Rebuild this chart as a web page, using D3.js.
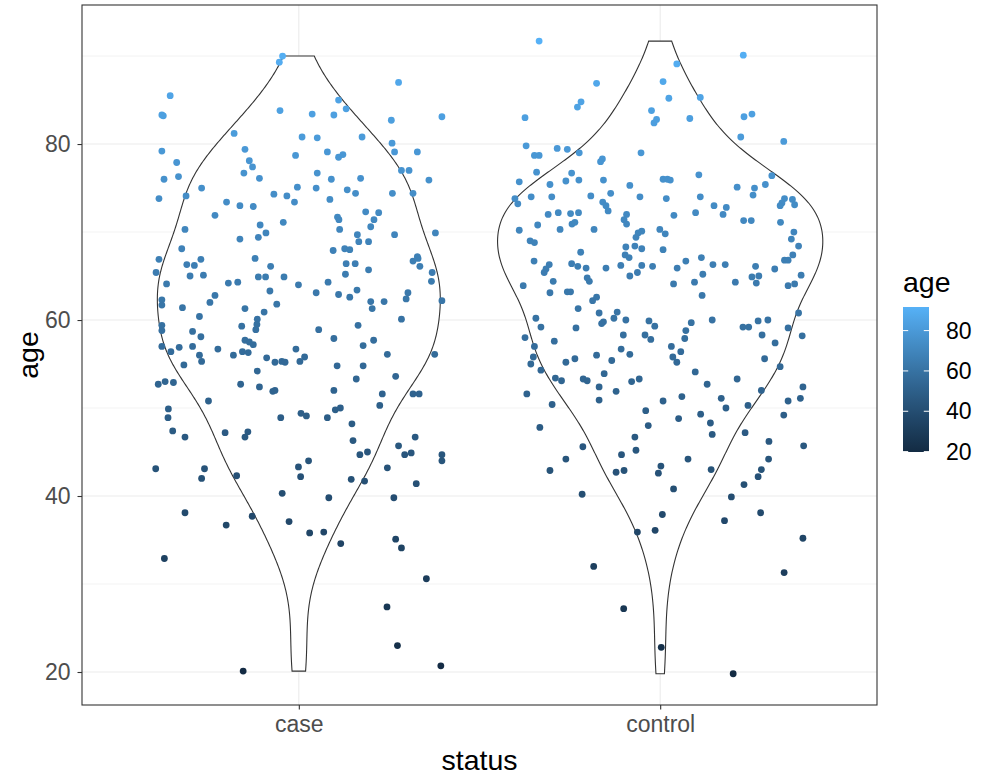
<!DOCTYPE html>
<html>
<head>
<meta charset="utf-8">
<script src="https://cdn.jsdelivr.net/npm/d3@7"></script>
<style>
  body { margin: 0; background: #fff; }
  text { font-family: "Liberation Sans", Arial, Helvetica, sans-serif; }
</style>
</head>
<body>
<svg id="chart" width="982" height="776"></svg>
<script>
// ---- data -------------------------------------------------------------
const categories = ["case", "control"];

// age of each subject and its horizontal jitter (in category units)
const caseAge = [
  90.0, 89.3, 85.5, 83.3, 83.2, 83.8, 81.2, 80.8, 79.2, 79.4, 77.9, 78.1, 77.4, 78.7, 76.0, 76.3, 76.7, 76.1,
  73.8, 74.1, 75.0, 74.3, 74.1, 75.1, 73.4, 73.4, 73.0, 72.9, 71.9, 71.1, 70.8, 69.9, 69.4, 70.3, 69.2, 68.1,
  87.0, 85.0, 84.0, 83.4, 83.3, 82.7, 83.1, 80.7, 80.8, 80.1, 79.1, 79.1, 79.1, 78.5, 78.8, 77.0, 77.0, 76.7,
  76.0, 76.1, 75.9, 75.0, 74.8, 74.4, 74.4, 74.4, 73.7, 72.3, 72.2, 71.7, 71.4, 71.4, 70.6, 70.3, 69.7, 69.7,
  69.9, 68.9, 68.9, 67.9, 68.1, 68.0, 67.2,
  66.9, 65.4, 66.3, 66.2, 66.9, 65.0, 65.1, 67.0, 66.1, 64.9, 64.9, 64.9, 64.0, 64.1, 64.2, 64.3, 63.3, 62.8,
  62.0, 62.3, 61.7, 61.8, 61.4, 61.3, 60.9, 60.4, 60.1, 59.5, 58.9, 59.3, 59.4, 58.8, 58.7, 58.1, 57.7, 57.5,
  57.2, 57.0, 56.4, 56.9, 57.0, 56.7, 56.4, 56.3, 56.7, 56.0, 55.3, 56.0, 55.7, 55.2, 55.3, 55.2, 55.3, 54.9,
  54.2, 52.7, 53.0, 52.9, 52.7, 52.4, 51.9, 52.0, 50.8, 49.9, 48.9, 48.9, 49.4, 47.4, 46.7, 47.2, 47.3, 46.7,
  43.1, 43.1, 43.3,
  66.4, 66.4, 65.2, 65.7, 64.3, 63.1, 62.9, 62.6, 63.4, 62.1, 61.3, 62.1, 63.1, 62.4, 66.7, 67.0, 66.1, 65.4,
  64.4, 62.2, 60.1, 59.4, 58.9, 57.9, 57.1, 57.7, 56.1, 56.1, 55.8, 54.8, 54.8, 53.3, 53.6, 52.0, 51.6, 51.6,
  51.6, 50.3, 49.1, 49.8, 50.0, 48.9, 48.2, 46.3, 44.7, 45.0, 45.7, 46.7, 44.7, 44.9, 44.7, 44.0, 44.0, 43.2,
  42.0, 42.3, 42.2, 40.3, 38.1, 36.7, 37.7, 37.1, 32.9, 20.1,
  41.9, 41.7, 41.4, 39.8, 39.8, 35.8, 35.9, 34.6, 35.1, 34.1, 30.6, 27.4, 23.0, 20.7
];
const caseJitter = [
  -0.045, -0.054, -0.356, -0.379, -0.375, -0.052, -0.179, 0.009, -0.379, -0.149, -0.338, -0.137, -0.128, -0.009, -0.373, -0.333, -0.152, -0.109,
  -0.387, -0.312, -0.269, -0.069, -0.033, -0.004, -0.012, -0.200, -0.163, -0.126, -0.232, -0.043, -0.107, -0.091, -0.112, -0.315, -0.163, -0.324,
  0.276, 0.110, 0.131, 0.037, 0.097, 0.256, 0.396, 0.051, 0.175, 0.258, 0.265, 0.328, 0.079, 0.110, 0.122, 0.284, 0.305, 0.051,
  0.090, 0.171, 0.360, 0.048, 0.134, 0.157, 0.259, 0.316, 0.086, 0.185, 0.221, 0.107, 0.111, 0.208, 0.199, 0.113, 0.162, 0.265,
  0.378, 0.166, 0.193, 0.095, 0.127, 0.141, 0.328,
  -0.387, -0.395, -0.310, -0.289, -0.271, -0.301, -0.264, -0.121, -0.078, -0.112, -0.092, -0.041, -0.001, -0.366, -0.195, -0.169, -0.080, -0.232,
  -0.246, -0.379, -0.379, -0.061, -0.322, -0.149, -0.096, -0.275, -0.115, -0.116, -0.119, -0.158, -0.379, -0.379, -0.294, -0.271, -0.149, -0.137,
  -0.126, -0.379, -0.354, -0.331, -0.294, -0.224, -0.156, -0.140, -0.008, -0.275, -0.269, -0.181, -0.089, -0.066, -0.047, -0.038, 0.003, -0.318,
  -0.115, -0.389, -0.370, -0.347, -0.161, -0.109, -0.072, -0.066, -0.250, -0.361, -0.362, -0.050, 0.006, -0.349, -0.315, -0.204, -0.141, -0.149,
  -0.396, -0.261, -0.001,
  0.131, 0.156, 0.129, 0.193, 0.081, 0.048, 0.110, 0.141, 0.161, 0.199, 0.203, 0.236, 0.302, 0.297, 0.316, 0.330, 0.335, 0.369,
  0.367, 0.396, 0.284, 0.164, 0.055, 0.097, 0.178, 0.207, 0.245, 0.376, 0.016, 0.106, 0.178, 0.159, 0.268, 0.097, 0.231, 0.316,
  0.333, 0.224, 0.021, 0.101, 0.115, 0.079, 0.147, 0.150, 0.169, 0.190, 0.276, 0.322, 0.293, 0.311, 0.396, 0.396, 0.027, 0.245,
  -0.269, -0.172, 0.005, -0.046, -0.315, -0.201, -0.129, -0.027, -0.372, -0.154,
  0.145, 0.182, 0.325, 0.083, 0.263, 0.030, 0.069, 0.116, 0.268, 0.284, 0.353, 0.244, 0.273, 0.393
];

const controlAge = [
  91.7, 86.9, 87.1, 84.8, 84.2, 83.0, 83.8, 82.8, 82.4, 79.8, 78.7, 78.7, 79.5, 79.4, 79.0, 79.0, 78.3, 78.0,
  76.8, 76.7, 75.7, 75.4, 75.8, 75.9, 75.9, 75.3, 73.8, 73.2, 74.0, 74.0, 74.1, 74.4, 73.4, 73.0, 72.4, 74.0,
  72.0, 72.2, 72.1, 72.2, 72.0, 71.4, 70.9, 70.9, 71.1, 70.8, 70.2, 70.3, 70.3, 70.3, 70.1, 69.9, 69.4, 69.0,
  68.8, 67.7, 68.3, 68.4, 68.1, 68.0,
  90.1, 89.1, 85.2, 85.3, 82.9, 83.1, 83.4, 80.8, 80.3, 76.0, 76.0, 75.9, 76.5, 76.4, 75.1, 75.0, 74.2, 75.4,
  73.8, 74.0, 73.0, 72.8, 72.0, 71.9, 72.2, 73.8, 73.3, 73.0, 73.7, 73.1, 71.3, 71.3, 71.1, 69.8, 70.0, 69.2,
  68.4,
  66.7, 66.3, 65.8, 65.4, 66.4, 66.1, 65.9, 64.8, 64.4, 65.9, 66.2, 67.4, 67.1, 66.2, 66.1, 65.4, 65.0, 63.9,
  64.4, 63.1, 63.2, 63.2, 62.6, 62.2, 61.3, 60.8, 60.9, 60.2, 60.0, 59.8, 59.6, 59.9, 59.3, 60.2, 59.2, 59.1,
  58.0, 57.0, 57.6, 58.3, 58.3, 57.8, 56.7, 56.1, 56.0, 55.8, 55.0, 54.3, 55.6, 55.2, 55.4, 53.9, 53.4, 53.1,
  53.3, 53.1, 52.4, 51.9, 53.0, 53.3, 51.6, 50.4, 50.9, 50.8, 49.7, 47.8, 48.0, 46.7, 45.6, 45.2, 44.7, 44.2,
  42.9, 42.7, 42.9, 42.6, 43.4,
  66.7, 65.9, 67.1, 66.3, 66.3, 65.2, 64.3, 64.1, 62.8, 64.3, 66.1, 64.9, 65.0, 64.2, 65.8, 66.8, 66.8, 67.4,
  65.1, 63.9, 64.1, 60.8, 59.7, 60.0, 58.8, 57.9, 59.2, 59.2, 59.9, 60.0, 58.3, 59.1, 58.2, 57.4, 57.0, 56.4,
  55.8, 55.2, 55.6, 54.7, 54.1, 53.3, 52.7, 52.0, 52.4, 51.1, 50.8, 51.3, 51.1, 50.0, 50.3, 49.3, 48.8, 48.3,
  47.0, 47.2, 49.2, 46.2, 45.7, 44.2, 44.2, 43.0, 43.0,
  40.2, 37.9, 35.9, 36.1, 32.0, 27.2, 22.8, 42.2, 41.3, 40.8, 39.9, 38.1, 37.2, 35.2, 31.3, 19.8
];
const controlJitter = [
  -0.335, -0.176, 0.008, -0.219, -0.229, -0.374, -0.024, -0.010, -0.017, -0.371, -0.348, -0.335, -0.285, -0.257, -0.224, -0.053, -0.160, -0.165,
  -0.342, -0.245, -0.390, -0.305, -0.261, -0.225, -0.157, -0.084, -0.402, -0.394, -0.357, -0.300, -0.192, -0.137, -0.159, -0.150, -0.144, -0.056,
  -0.310, -0.282, -0.248, -0.226, -0.093, -0.100, -0.093, -0.244, -0.236, -0.339, -0.390, -0.277, -0.183, -0.001, -0.051, -0.061, -0.067, -0.360,
  -0.348, -0.220, -0.095, -0.070, -0.051, 0.008,
  0.230, 0.046, 0.024, 0.111, 0.082, 0.232, 0.254, 0.223, 0.342, 0.008, 0.020, 0.028, 0.107, 0.309, 0.213, 0.261, 0.257, 0.291,
  0.017, 0.111, 0.149, 0.183, 0.174, 0.038, 0.098, 0.344, 0.337, 0.332, 0.366, 0.372, 0.231, 0.252, 0.333, 0.014, 0.370, 0.363,
  0.383,
  -0.349, -0.307, -0.316, -0.321, -0.245, -0.228, -0.205, -0.202, -0.196, -0.150, -0.109, -0.097, -0.086, -0.051, -0.021, -0.063, -0.084, -0.379,
  -0.296, -0.305, -0.257, -0.248, -0.176, -0.187, -0.227, -0.169, -0.119, -0.128, -0.095, -0.157, -0.162, -0.031, -0.015, -0.344, -0.330, -0.233,
  -0.374, -0.348, -0.293, -0.102, -0.042, -0.026, -0.108, -0.084, -0.176, -0.351, -0.358, -0.330, -0.236, -0.261, -0.134, -0.155, -0.290, -0.273,
  -0.213, -0.202, -0.169, -0.122, -0.079, -0.058, -0.369, -0.299, -0.169, 0.008, -0.040, -0.333, -0.033, -0.070, -0.214, -0.067, -0.107, -0.261,
  -0.305, -0.122, -0.100, -0.005, 0.002,
  0.071, 0.047, 0.114, 0.146, 0.180, 0.118, 0.095, 0.037, 0.116, 0.208, 0.264, 0.254, 0.273, 0.266, 0.317, 0.344, 0.354, 0.367,
  0.390, 0.354, 0.372, 0.383, 0.086, 0.144, 0.071, 0.068, 0.229, 0.245, 0.271, 0.298, 0.282, 0.354, 0.393, 0.318, 0.031, 0.057,
  0.035, 0.046, 0.289, 0.332, 0.097, 0.213, 0.130, 0.280, 0.395, 0.388, 0.354, 0.060, 0.169, 0.182, 0.243, 0.112, 0.051, 0.139,
  0.144, 0.235, 0.342, 0.301, 0.397, 0.077, 0.300, 0.141, 0.280,
  -0.216, 0.006, -0.063, -0.014, -0.184, -0.101, 0.003, 0.271, 0.232, 0.037, 0.197, 0.278, 0.178, 0.395, 0.343, 0.202
];

const yTicks = [20, 40, 60, 80];
const yMinorTicks = [30, 50, 70, 90];
const legendTicks = [20, 40, 60, 80];

// ---- layout -----------------------------------------------------------
const svg = d3.select("#chart");
const panel = { left: 82, right: 877, top: 5, bottom: 705 };
const tickFont = "23px";
const titleFont = "28.5px";

const x = d3.scaleLinear().domain([0.4, 2.6]).range([panel.left, panel.right]);
const y = d3.scaleLinear().domain([16.25, 95.8]).range([panel.bottom, panel.top]);

const groups = [
  { name: categories[0], pos: 1, ages: caseAge, jitter: caseJitter },
  { name: categories[1], pos: 2, ages: controlAge, jitter: controlJitter }
];

const allAges = groups.flatMap(g => g.ages);
const ageExtent = d3.extent(allAges);
const colour = d3.scaleLinear().domain(ageExtent)
  .range(["#132B43", "#56B1F7"]).interpolate(d3.interpolateLab);

// ---- panel background and grid ----------------------------------------
svg.append("rect").attr("x", panel.left).attr("y", panel.top)
  .attr("width", panel.right - panel.left).attr("height", panel.bottom - panel.top)
  .attr("fill", "#fff");

const grid = svg.append("g");
grid.selectAll(".minor").data(yMinorTicks).join("line")
  .attr("x1", panel.left).attr("x2", panel.right)
  .attr("y1", d => y(d)).attr("y2", d => y(d))
  .attr("stroke", "#EBEBEB").attr("stroke-width", 0.6);
grid.selectAll(".majorY").data(yTicks).join("line")
  .attr("x1", panel.left).attr("x2", panel.right)
  .attr("y1", d => y(d)).attr("y2", d => y(d))
  .attr("stroke", "#EBEBEB").attr("stroke-width", 1.1);
grid.selectAll(".majorX").data(groups).join("line")
  .attr("x1", d => x(d.pos)).attr("x2", d => x(d.pos))
  .attr("y1", panel.top).attr("y2", panel.bottom)
  .attr("stroke", "#EBEBEB").attr("stroke-width", 1.1);

// ---- violins (gaussian KDE, nrd0 bandwidth, trimmed, area-scaled) -----
function nrd0(v) {
  const s = v.slice().sort(d3.ascending);
  const sd = d3.deviation(s);
  const iqr = d3.quantileSorted(s, 0.75) - d3.quantileSorted(s, 0.25);
  const lo = Math.min(sd, iqr / 1.34) || sd || 1;
  return 0.9 * lo * Math.pow(s.length, -0.2);
}
function kde(v, n) {
  const h = nrd0(v);
  const [a, b] = d3.extent(v);
  const norm = 1 / (v.length * h * Math.sqrt(2 * Math.PI));
  return d3.range(n).map(i => {
    const t = a + (b - a) * i / (n - 1);
    let s = 0;
    for (const xi of v) { const u = (t - xi) / h; s += Math.exp(-0.5 * u * u); }
    return { age: t, density: s * norm };
  });
}
groups.forEach(g => { g.dens = kde(g.ages, 512); });
const maxDens = d3.max(groups, g => d3.max(g.dens, d => d.density));
const halfWidth = (x(2) - x(1)) * 0.45;

const line = d3.line().x(d => d[0]).y(d => d[1]);
svg.append("g").selectAll("path").data(groups).join("path")
  .attr("d", g => {
    const cx = x(g.pos);
    const right = g.dens.map(d => [cx + d.density / maxDens * halfWidth, y(d.age)]);
    const left = g.dens.slice().reverse().map(d => [cx - d.density / maxDens * halfWidth, y(d.age)]);
    return line(right.concat(left)) + "Z";
  })
  .attr("fill", "#fff").attr("stroke", "#333333").attr("stroke-width", 1.1);

// ---- jittered points --------------------------------------------------
const pts = groups.flatMap(g => g.ages.map((a, i) => ({ pos: g.pos + g.jitter[i], age: a })));
svg.append("g").selectAll("circle").data(pts).join("circle")
  .attr("cx", d => x(d.pos)).attr("cy", d => y(d.age)).attr("r", 3.4)
  .attr("fill", d => colour(d.age));

// ---- panel border -----------------------------------------------------
svg.append("rect").attr("x", panel.left).attr("y", panel.top)
  .attr("width", panel.right - panel.left).attr("height", panel.bottom - panel.top)
  .attr("fill", "none").attr("stroke", "#333333").attr("stroke-width", 1.1);

// ---- axes -------------------------------------------------------------
const yAxis = svg.append("g").attr("transform", `translate(${panel.left},0)`)
  .call(d3.axisLeft(y).tickValues(yTicks).tickSize(4.5).tickPadding(7));
const xAxis = svg.append("g").attr("transform", `translate(0,${panel.bottom})`)
  .call(d3.axisBottom(x).tickValues([1, 2]).tickFormat(d => categories[d - 1]).tickSize(4.5).tickPadding(6));
[yAxis, xAxis].forEach(a => {
  a.select(".domain").remove();
  a.selectAll(".tick line").attr("stroke", "#333333").attr("stroke-width", 1.1);
  a.selectAll(".tick text").attr("fill", "#4D4D4D").style("font-size", tickFont)
    .style("font-family", '"Liberation Sans", Arial, sans-serif');
});

svg.append("text").attr("x", (panel.left + panel.right) / 2).attr("y", 770)
  .attr("text-anchor", "middle").style("font-size", titleFont).attr("fill", "#000").text("status");
svg.append("text").attr("transform", `translate(38,${(panel.top + panel.bottom) / 2}) rotate(-90)`)
  .attr("text-anchor", "middle").style("font-size", titleFont).attr("fill", "#000").text("age");

// ---- colour bar legend ------------------------------------------------
const leg = { x: 903, w: 26, top: 307, bottom: 452 };
const legY = d3.scaleLinear().domain(ageExtent).range([leg.bottom, leg.top]);

svg.append("text").attr("x", leg.x).attr("y", 292)
  .style("font-size", titleFont).attr("fill", "#000").text("age");

const grad = svg.append("defs").append("linearGradient").attr("id", "ageGrad")
  .attr("x1", 0).attr("y1", 1).attr("x2", 0).attr("y2", 0);
grad.selectAll("stop").data(d3.range(0, 1.0001, 0.05)).join("stop")
  .attr("offset", d => d)
  .attr("stop-color", d => colour(ageExtent[0] + d * (ageExtent[1] - ageExtent[0])));
svg.append("rect").attr("x", leg.x).attr("y", leg.top)
  .attr("width", leg.w).attr("height", leg.bottom - leg.top).attr("fill", "url(#ageGrad)");

const legG = svg.append("g");
legG.selectAll(".tl").data(legendTicks).join("line")
  .attr("x1", leg.x).attr("x2", leg.x + leg.w / 5)
  .attr("y1", d => legY(d)).attr("y2", d => legY(d)).attr("stroke", "#fff").attr("stroke-width", 1);
legG.selectAll(".tr").data(legendTicks).join("line")
  .attr("x1", leg.x + leg.w * 4 / 5).attr("x2", leg.x + leg.w)
  .attr("y1", d => legY(d)).attr("y2", d => legY(d)).attr("stroke", "#fff").attr("stroke-width", 1);
legG.selectAll("text").data(legendTicks).join("text")
  .attr("x", leg.x + leg.w + 17).attr("y", d => legY(d)).attr("dy", "0.35em")
  .style("font-size", tickFont).attr("fill", "#000").text(d => d);
</script>
</body>
</html>
